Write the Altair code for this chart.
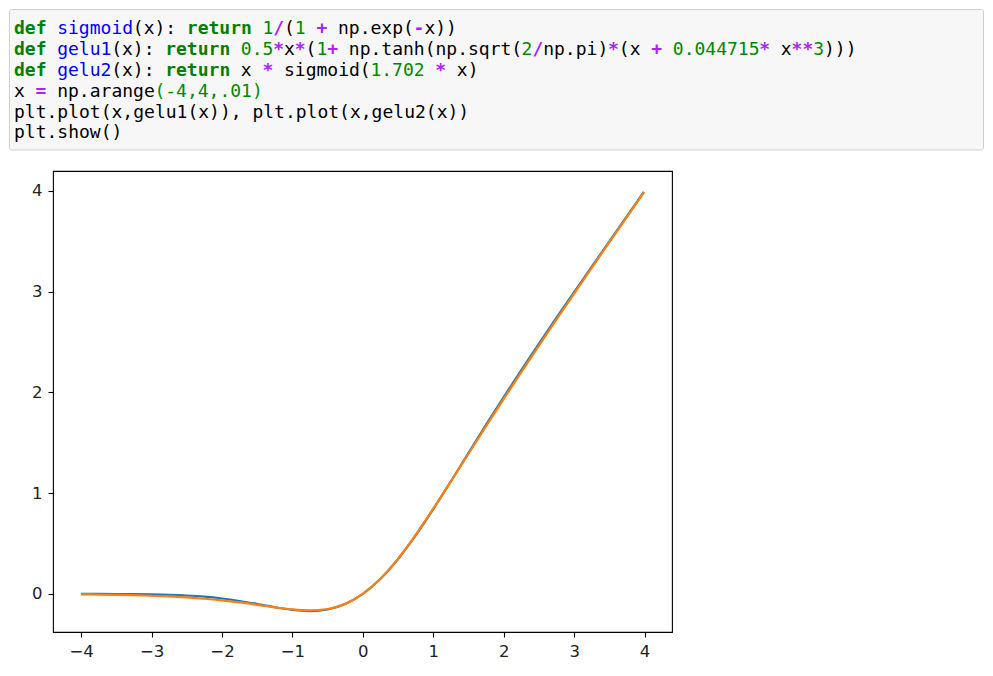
import altair as alt
import pandas as pd

# ---- code cell text (token, class) ----
code_line1 = [("def", "kw"), (" ", "tx"), ("sigmoid", "fn"), ("(x): ", "tx"), ("return", "kw"), (" ", "tx"),
              ("1", "num"), ("/", "op"), ("(", "tx"), ("1", "num"), (" ", "tx"), ("+", "op"),
              (" np.exp(", "tx"), ("-", "op"), ("x))", "tx")]
code_line2 = [("def", "kw"), (" ", "tx"), ("gelu1", "fn"), ("(x): ", "tx"), ("return", "kw"), (" ", "tx"),
              ("0.5", "num"), ("*", "op"), ("x", "tx"), ("*", "op"), ("(", "tx"), ("1", "num"), ("+", "op"),
              (" np.tanh(np.sqrt(", "tx"), ("2", "num"), ("/", "op"), ("np.pi)", "tx"), ("*", "op"),
              ("(x ", "tx"), ("+", "op"), (" ", "tx"), ("0.044715", "num"), ("*", "op"), (" x", "tx"),
              ("**", "op"), ("3", "num"), (")))", "tx")]
code_line3 = [("def", "kw"), (" ", "tx"), ("gelu2", "fn"), ("(x): ", "tx"), ("return", "kw"), (" x ", "tx"),
              ("*", "op"), (" sigmoid(", "tx"), ("1.702", "num"), (" ", "tx"), ("*", "op"), (" x)", "tx")]
code_line4 = [("x ", "tx"), ("=", "op"), (" np.arange", "tx"), ("(-4,4,.01)", "num")]
code_line5 = [("plt.plot(x,gelu1(x)), plt.plot(x,gelu2(x))", "tx")]
code_line6 = [("plt.show()", "tx")]
code_lines = [code_line1, code_line2, code_line3, code_line4, code_line5, code_line6]

token_classes = ["kw", "fn", "num", "op", "tx"]
token_colors = ["#008000", "#0000ff", "#008800", "#aa22ff", "#000000"]

# ---- curve values ----
x_vals = [-4.0, -3.75, -3.5, -3.25, -3.0, -2.75, -2.5, -2.25, -2.0, -1.75, -1.5, -1.25, -1.0,
          -0.75, -0.5, -0.25, 0.0, 0.25, 0.5, 0.75, 1.0, 1.25, 1.5, 1.75, 2.0, 2.25, 2.5,
          2.75, 3.0, 3.25, 3.5, 3.75, 3.99]
gelu1_vals = [-0.0001, -0.0003, -0.0008, -0.0019, -0.0040, -0.0082, -0.0155, -0.0275, -0.0455,
              -0.0701, -0.1002, -0.1320, -0.1588, -0.1700, -0.1543, -0.1003, 0.0, 0.1497, 0.3457,
              0.5800, 0.8412, 1.1180, 1.3998, 1.6799, 1.9545, 2.2225, 2.4845, 2.7418, 2.9960,
              3.2481, 3.4992, 3.7497, 3.9899]
gelu2_vals = [-0.0044, -0.0063, -0.0090, -0.0128, -0.0181, -0.0252, -0.0350, -0.0478, -0.0643,
              -0.0846, -0.1083, -0.1331, -0.1542, -0.1636, -0.1496, -0.0988, 0.0, 0.1512, 0.3504,
              0.5864, 0.8458, 1.1169, 1.3917, 1.6654, 1.9357, 2.2022, 2.4650, 2.7248, 2.9819,
              3.2372, 3.4910, 3.7437, 3.9855]
x_ticks = [-4, -3, -2, -1, 0, 1, 2, 3, 4]
y_ticks = [0, 1, 2, 3, 4]

# code box bounds in (column, line) units
box_cols = [-0.42, 89.77]
box_lines = [-1.19, 5.56]

# ---- tables ----
rows = []
for li, toks in enumerate(code_lines):
    col = 0
    for t, cls in toks:
        s = t.lstrip(" ")
        lead = len(t) - len(s)
        if s.strip():
            rows.append({"line": li, "col": col + lead, "text": s, "cls": cls})
        col += len(t)
code_df = pd.DataFrame(rows)
box_df = pd.DataFrame({"c0": [box_cols[0]], "c1": [box_cols[1]], "l0": [box_lines[0]], "l1": [box_lines[1]]})
curve_df = pd.DataFrame({"x": x_vals, "gelu1": gelu1_vals, "gelu2": gelu2_vals})

col_scale = alt.Scale(domain=[0, 90], range=[-39, 933], nice=False, zero=False)
line_scale = alt.Scale(domain=[0, 5], range=[-136.7, -32.7], nice=False, zero=False)
color_scale = alt.Scale(domain=token_classes, range=token_colors)

box = alt.Chart(box_df).mark_rect(fill="#f7f7f7", stroke="#cfcfcf", strokeWidth=1, cornerRadius=2).encode(
    x=alt.X("c0:Q", scale=col_scale, axis=None),
    x2="c1:Q",
    y=alt.Y("l0:Q", scale=line_scale, axis=None),
    y2="l1:Q",
)

def code_layer(bold):
    base = alt.Chart(code_df)
    if bold:
        base = base.transform_filter(alt.FieldOneOfPredicate(field="cls", oneOf=["kw", "op"]))
    else:
        base = base.transform_filter(alt.FieldOneOfPredicate(field="cls", oneOf=["fn", "num", "tx"]))
    return base.mark_text(
        align="left", baseline="alphabetic", font="DejaVu Sans Mono", fontSize=18,
        fontWeight="bold" if bold else "normal",
    ).encode(
        x=alt.X("col:Q", scale=col_scale, axis=None),
        y=alt.Y("line:Q", scale=line_scale, axis=None),
        text="text:N",
        color=alt.Color("cls:N", scale=color_scale, legend=None),
    )

xs = alt.Scale(domain=[-4.3995, 4.3895], nice=False, zero=False)
ys = alt.Scale(domain=[-0.378, 4.198], nice=False, zero=False)

axis_style = dict(format="d", grid=False, domain=False, tickSize=5, tickWidth=1.1, tickColor="#000",
                  labelFont="DejaVu Sans", labelFontSize=16.5, labelColor="#222")

blue = alt.Chart(curve_df).mark_line(color="#1f77b4", strokeWidth=2.2, interpolate="monotone").encode(
    x=alt.X("x:Q", scale=xs, title=None, axis=alt.Axis(values=x_ticks, labelPadding=6, **axis_style)),
    y=alt.Y("gelu1:Q", scale=ys, title=None, axis=alt.Axis(values=y_ticks, labelPadding=6, **axis_style)),
)
orange = alt.Chart(curve_df).mark_line(color="#ff7f0e", strokeWidth=2.2, interpolate="monotone").encode(
    x=alt.X("x:Q", scale=xs, axis=None),
    y=alt.Y("gelu2:Q", scale=ys, axis=None),
)

chart = alt.layer(box, code_layer(False), code_layer(True), blue, orange).resolve_scale(
    x="independent", y="independent", color="independent"
).properties(
    width=619, height=461,
    autosize=alt.AutoSizeParams(type="none"),
    padding={"left": 45, "top": 163, "right": 312, "bottom": 30},
).configure(background="white").configure_view(stroke="#000", strokeWidth=1.1)

chart.save("out.html", embed_options={"renderer": "svg", "actions": False})
